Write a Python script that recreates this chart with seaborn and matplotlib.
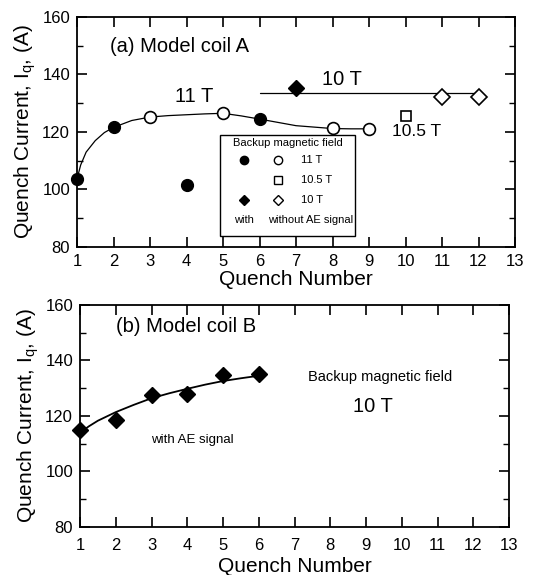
import matplotlib
matplotlib.use("Agg")
import matplotlib.pyplot as plt
import seaborn as sns
import pandas as pd
from matplotlib.patches import Rectangle

sns.set_theme(style="ticks")
plt.rcParams['font.family'] = ['Liberation Sans', 'DejaVu Sans']
plt.rcParams['mathtext.fontset'] = 'custom'
plt.rcParams['mathtext.rm'] = 'Liberation Sans'
plt.rcParams['mathtext.it'] = 'Liberation Sans'
for k in ['text.color', 'axes.labelcolor', 'xtick.color', 'ytick.color', 'axes.edgecolor']:
    plt.rcParams[k] = 'black'

# ---- Panel (a) data: Model coil A ----
a_11T_with_x = [1, 2, 4, 6]
a_11T_with_y = [103.6, 121.6, 101.5, 124.5]
a_11T_without_x = [3, 5, 8, 9]
a_11T_without_y = [125.3, 126.5, 121.3, 121.1]
a_105T_without_x = [10]
a_105T_without_y = [125.5]
a_10T_with_x = [7]
a_10T_with_y = [135.2]
a_10T_without_x = [11, 12]
a_10T_without_y = [132.1, 132.1]
# fitted curve
a_fit11_x = [1, 1.1, 1.25, 1.5, 1.75, 2, 2.5, 3, 3.5, 4, 4.5, 5, 5.5, 6, 7, 8, 8.5, 9]
a_fit11_y = [103.6, 108.5, 113, 117, 119.8, 121.6, 124, 125.2, 125.7, 126, 126.3, 126.5, 125.6, 124.5, 122.2, 121.2, 121.1, 121.1]
a_fit10_x = [6, 12]
a_fit10_y = [133.4, 133.4]

# ---- Panel (b) data: Model coil B ----
b_x = [1, 2, 3, 4, 5, 6]
b_y = [114.8, 118.4, 127.5, 127.8, 134.6, 135.0]
b_fit_x = [1, 1.25, 1.5, 2, 2.5, 3, 3.5, 4, 4.5, 5, 5.5, 6]
b_fit_y = [114.0, 116.3, 118.3, 121.4, 124.0, 126.4, 128.2, 129.8, 131.3, 132.6, 133.6, 134.5]

xticks = list(range(1, 14))
yticks = [80, 100, 120, 140, 160]

fig = plt.figure(figsize=(5.42, 5.75), dpi=100)
ax1 = fig.add_axes([77/542, 1-247/575, 438/542, 230/575])
ax2 = fig.add_axes([80/542, 1-527/575, 429/542, 222/575])

ms = 8.5
def style(ax, xpad, lpad):
    ax.set_xlim(1, 13)
    ax.set_ylim(80, 160)
    ax.set_xticks(xticks)
    ax.set_yticks(yticks)
    ax.set_yticks(list(range(80, 161, 10)), minor=True)
    ax.tick_params(which='both', direction='in', top=True, right=True, color='black', labelsize=12)
    ax.tick_params(axis='x', pad=xpad)
    ax.tick_params(axis='y', pad=5)
    ax.tick_params(which='major', length=7, width=1.2)
    ax.tick_params(which='minor', length=4, width=1.0)
    for s in ax.spines.values():
        s.set_color('black'); s.set_linewidth(1.3)
    ax.set_xlabel('Quench Number', fontsize=15, labelpad=lpad)
    ax.set_ylabel(r'Quench Current, I$_{\mathrm{q}}$, (A)', fontsize=15, labelpad=3)
    ax.grid(False)

# Panel (a)
sns.lineplot(x=a_fit11_x, y=a_fit11_y, ax=ax1, color='black', lw=0.9, sort=False)
sns.lineplot(x=a_fit10_x, y=a_fit10_y, ax=ax1, color='black', lw=0.9, sort=False)
ax1.plot(a_11T_with_x, a_11T_with_y, 'o', ms=ms, mfc='black', mec='black', zorder=5, clip_on=False)
ax1.plot(a_11T_without_x, a_11T_without_y, 'o', ms=ms, mfc='white', mec='black', mew=1.2, zorder=5, clip_on=False)
ax1.plot(a_105T_without_x, a_105T_without_y, 's', ms=7.5, mfc='white', mec='black', mew=1.2, zorder=5, clip_on=False)
ax1.plot(a_10T_with_x, a_10T_with_y, 'D', ms=8, mfc='black', mec='black', zorder=5, clip_on=False)
ax1.plot(a_10T_without_x, a_10T_without_y, 'D', ms=8, mfc='white', mec='black', mew=1.2, zorder=5, clip_on=False)
style(ax1, 5, 1)
ax1.text(1.9, 149.8, '(a) Model coil A', fontsize=14.5, va='center', ha='left')
ax1.text(4.2, 132.5, '11 T', fontsize=14.5, va='center', ha='center')
ax1.text(8.25, 138.2, '10 T', fontsize=14.5, va='center', ha='center')
ax1.text(10.3, 120.0, '10.5 T', fontsize=12.5, va='center', ha='center')

# legend box (a)
ax1.add_patch(Rectangle((4.93, 83.7), 3.68, 35.4, fill=False, ec='black', lw=1.0, zorder=6))
lf = dict(fontsize=8, ha='center', va='center', zorder=7)
ax1.text(6.77, 116.0, 'Backup magnetic field', **lf)
ax1.plot([5.58], [110.3], 'o', ms=6, mfc='black', mec='black', zorder=7)
ax1.plot([6.5], [110.3], 'o', ms=6, mfc='white', mec='black', zorder=7)
ax1.text(7.44, 110.3, '11 T', **lf)
ax1.plot([6.5], [103.3], 's', ms=5.5, mfc='white', mec='black', zorder=7)
ax1.text(7.57, 103.3, '10.5 T', **lf)
ax1.plot([5.58], [96.3], 'D', ms=5.5, mfc='black', mec='black', zorder=7)
ax1.plot([6.5], [96.3], 'D', ms=5.5, mfc='white', mec='black', zorder=7)
ax1.text(7.44, 96.3, '10 T', **lf)
ax1.text(5.58, 89.3, 'with', **lf)
ax1.text(7.41, 89.3, 'without AE signal', **lf)

# Panel (b)
sns.lineplot(x=b_fit_x, y=b_fit_y, ax=ax2, color='black', lw=1.3, sort=False)
ax2.plot(b_x, b_y, 'D', ms=8.5, mfc='black', mec='black', zorder=5, clip_on=False)
style(ax2, 8, 3)
ax2.text(2.0, 152.2, '(b) Model coil B', fontsize=14.5, va='center', ha='left')
ax2.text(9.4, 134.0, 'Backup magnetic field', fontsize=10.5, va='center', ha='center')
ax2.text(9.2, 123.4, '10 T', fontsize=14.5, va='center', ha='center')
ax2.text(4.15, 111.4, 'with AE signal', fontsize=9.5, va='center', ha='center')

fig.savefig('out.png', dpi=100)
